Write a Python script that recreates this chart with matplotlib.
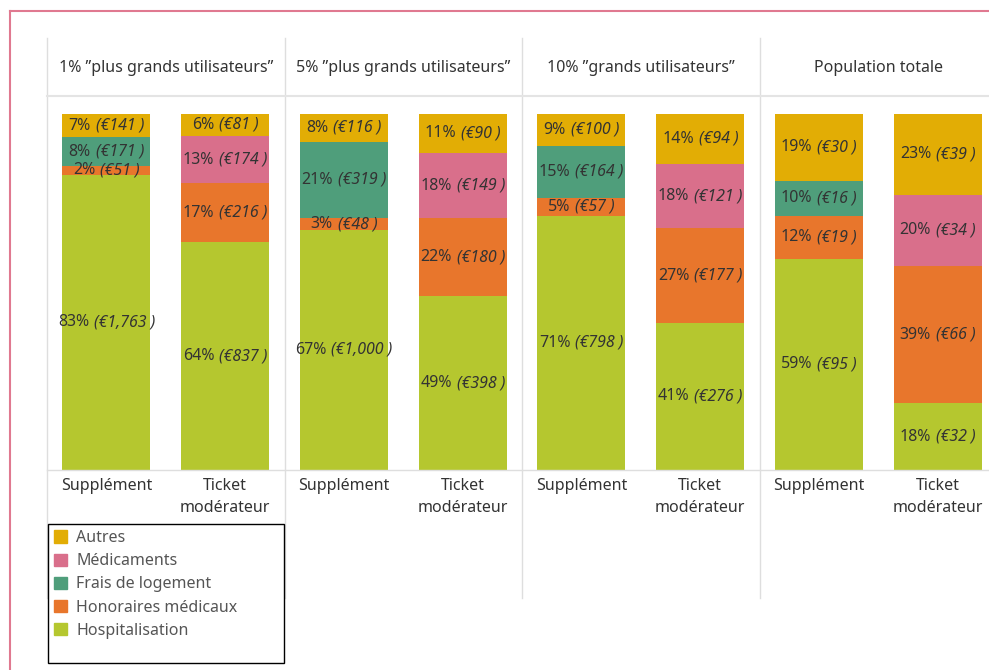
import matplotlib
matplotlib.use("Agg")
import matplotlib.pyplot as plt
from matplotlib.transforms import Affine2D
from matplotlib.lines import Line2D
from matplotlib.patches import Rectangle, Patch
from matplotlib.offsetbox import TextArea, HPacker, AnnotationBbox

plt.rcParams['font.family'] = ['Noto Sans', 'DejaVu Sans']

# --- data ---
groups = ['1% ”plus grands utilisateurs”', '5% ”plus grands utilisateurs”',
          '10% ”grands utilisateurs”', 'Population totale']
bar_labels = ['Supplément', 'Ticket\nmodérateur']

# stacking order, bottom -> top
categories = ['Hospitalisation', 'Honoraires médicaux', 'Frais de logement', 'Médicaments', 'Autres']
colors = ['#B5C72F', '#E8762C', '#4F9E7B', '#D96F8B', '#E2AD05']

# 8 bars: (group1 supp, group1 ticket, group2 supp, ...)
hospitalisation_eur = [1763, 837, 1000, 398, 798, 276, 95, 32]
honoraires_eur = [51, 216, 48, 180, 57, 177, 19, 66]
logement_eur = [171, 0, 319, 0, 164, 0, 16, 0]
medicaments_eur = [0, 174, 0, 149, 0, 121, 0, 34]
autres_eur = [141, 81, 116, 90, 100, 94, 30, 39]

hospitalisation_pct = [83, 64, 67, 49, 71, 41, 59, 18]
honoraires_pct = [2, 17, 3, 22, 5, 27, 12, 39]
logement_pct = [8, 0, 21, 0, 15, 0, 10, 0]
medicaments_pct = [0, 13, 0, 18, 0, 18, 0, 20]
autres_pct = [7, 6, 8, 11, 9, 14, 19, 23]

eur = [hospitalisation_eur, honoraires_eur, logement_eur, medicaments_eur, autres_eur]
pct = [hospitalisation_pct, honoraires_pct, logement_pct, medicaments_pct, autres_pct]

W, H = 989, 670
fig = plt.figure(figsize=(W / 100, H / 100), dpi=100)
px = Affine2D().scale(1 / W, -1 / H).translate(0, 1) + fig.transFigure

txt = '#333333'
grid = '#dedede'
fs = 11.5

panel_left = 47
panel_w = 237.5
ax_top, ax_bot = 96, 470

for g, name in enumerate(groups):
    left = panel_left + g * panel_w
    ax = fig.add_axes([left / W, 1 - ax_bot / H, panel_w / W, (ax_bot - ax_top) / H])
    ax.set_xlim(-0.5, 1.5)
    ax.set_ylim(0, 105)
    for s in ax.spines.values():
        s.set_visible(False)
    ax.set_yticks([])
    ax.set_xticks([0, 1])
    ax.set_xticklabels(bar_labels, fontsize=fs, color=txt, linespacing=1.45)
    ax.tick_params(axis='x', length=0, pad=6)

    for b in range(2):
        i = g * 2 + b
        total = sum(e[i] for e in eur)
        bottom = 0
        for c in range(len(categories)):
            v = eur[c][i]
            if v == 0:
                continue
            h = v / total * 100
            ax.bar(b, h, bottom=bottom, width=0.74, color=colors[c], linewidth=0)
            t1 = TextArea(f'{pct[c][i]}%', textprops=dict(fontsize=fs, color=txt))
            t2 = TextArea(f'(€{v:,} )', textprops=dict(fontsize=fs, color=txt, style='italic'))
            box = HPacker(children=[t1, t2], align='baseline', pad=0, sep=3.5)
            ab = AnnotationBbox(box, (b, bottom + h / 2), frameon=False,
                                box_alignment=(0.5, 0.5), pad=0, annotation_clip=False)
            ab.set_zorder(5)
            ax.add_artist(ab)
            bottom += h

    fig.text(left + panel_w / 2, 68, name, transform=px, ha='center', va='center',
             fontsize=fs, color=txt)

# grid lines of the table layout
for g in range(5):
    x = panel_left + g * panel_w
    fig.add_artist(Line2D([x, x], [38, 598], transform=px, color=grid, lw=1, zorder=2))
fig.add_artist(Line2D([panel_left, W], [96, 96], transform=px, color='#e4e4e4', lw=1.5, zorder=2))
fig.add_artist(Line2D([panel_left, W], [470, 470], transform=px, color=grid, lw=1, zorder=2))

# outer pink frame
fig.add_artist(Line2D([10, W], [11, 11], transform=px, color='#E07990', lw=1.5))
fig.add_artist(Line2D([10, 10], [11, H], transform=px, color='#E07990', lw=1.5))

# legend
fig.add_artist(Rectangle((48, 524), 236, 139, transform=px, facecolor='white',
                         edgecolor='black', lw=1, zorder=3))
handles = [Patch(color=colors[c]) for c in range(len(categories))][::-1]
fig.legend(handles, categories[::-1], loc='upper left', bbox_to_anchor=(54, 530),
           bbox_transform=px, frameon=False, fontsize=fs, labelcolor='#555555',
           handlelength=0.8, handleheight=0.8, handletextpad=0.6,
           labelspacing=0.45, borderaxespad=0, borderpad=0)

fig.savefig('out.png', dpi=100)
